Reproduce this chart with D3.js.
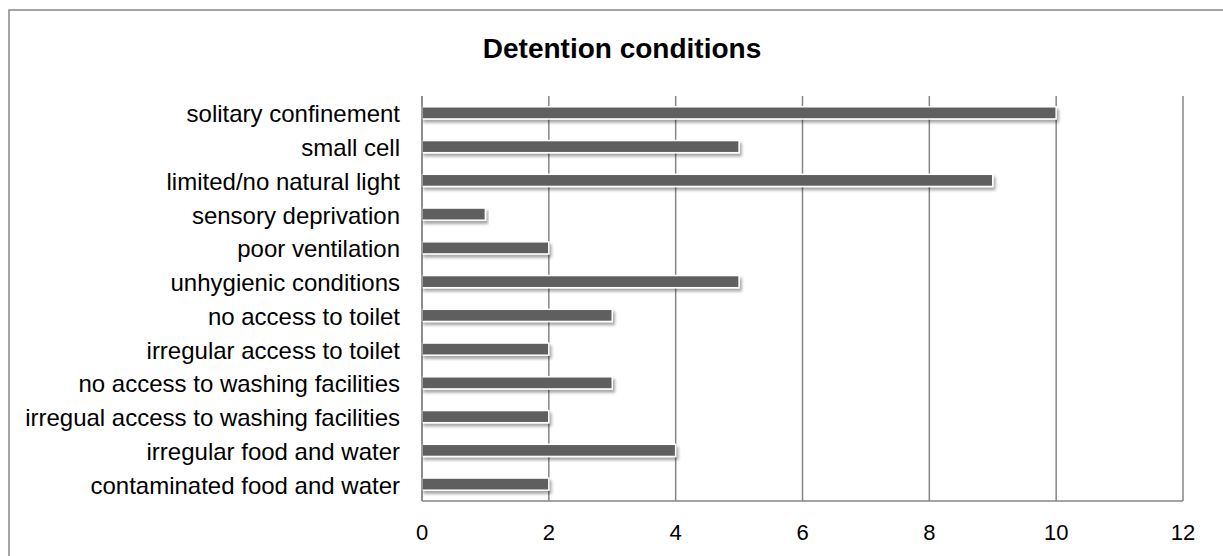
<!DOCTYPE html>
<html><head><meta charset="utf-8">
<script src="https://cdn.jsdelivr.net/npm/d3@7/dist/d3.min.js"></script>
<style>body{margin:0;background:#fff}svg{display:block}text{font-family:"Liberation Sans",Arial,sans-serif}</style>
</head><body><svg id="c" width="1223" height="556"></svg>
<script>
const categories = ["solitary confinement","small cell","limited/no natural light","sensory deprivation","poor ventilation","unhygienic conditions","no access to toilet","irregular access to toilet","no access to washing facilities","irregual access to washing facilities","irregular food and water","contaminated food and water"];
const values = [10,5,9,1,2,5,3,2,3,2,4,2];
const xTicks = [0,2,4,6,8,10,12];
const title = "Detention conditions";

const svg = d3.select("#c");
const m = {left:422, right:1183, top:96, bottom:501};
const x = d3.scaleLinear().domain([0,12]).range([m.left, m.right]);
const y = d3.scaleBand().domain(categories).range([m.top, m.bottom]).paddingInner(0.64).paddingOuter(0.32);

const defs = svg.append("defs");
const f = defs.append("filter").attr("id","sh").attr("x","-5%").attr("y","-50%").attr("width","110%").attr("height","250%");
f.append("feGaussianBlur").attr("in","SourceAlpha").attr("stdDeviation",1.5).attr("result","b");
f.append("feOffset").attr("in","b").attr("dx",1.5).attr("dy",3).attr("result","o");
f.append("feComponentTransfer").attr("in","o").attr("result","t").append("feFuncA").attr("type","linear").attr("slope",0.35);
const mg = f.append("feMerge"); mg.append("feMergeNode").attr("in","t"); mg.append("feMergeNode").attr("in","SourceGraphic");

// outer border
svg.append("rect").attr("x",9).attr("y",10).attr("width",1240).attr("height",560).attr("fill","none").attr("stroke","#878787").attr("stroke-width",1.5);

svg.append("text").attr("x",622).attr("y",58).attr("text-anchor","middle").attr("font-size",28).attr("font-weight","bold").attr("fill","#000").text(title);

// gridlines
svg.append("g").selectAll("line").data(xTicks).join("line")
  .attr("x1",d=>x(d)).attr("x2",d=>x(d)).attr("y1",m.top).attr("y2",m.bottom)
  .attr("stroke","#868686").attr("stroke-width",1.5);
svg.append("line").attr("x1",m.left).attr("x2",m.right).attr("y1",m.bottom).attr("y2",m.bottom).attr("stroke","#868686").attr("stroke-width",1.5);

// bars
svg.append("g").selectAll("rect").data(values).join("rect")
  .attr("x",x(0)).attr("y",(d,i)=>y(categories[i]))
  .attr("width",d=>x(d)-x(0)).attr("height",y.bandwidth())
  .attr("fill","#5f5f5f").attr("stroke","#fff").attr("stroke-width",1.5).attr("filter","url(#sh)");

// left axis line on top
svg.append("line").attr("x1",m.left).attr("x2",m.left).attr("y1",m.top).attr("y2",m.bottom).attr("stroke","#868686").attr("stroke-width",1.5);

// x tick labels
svg.append("g").selectAll("text").data(xTicks).join("text")
  .attr("x",d=>x(d)).attr("y",540).attr("text-anchor","middle").attr("font-size",22).attr("fill","#000").text(d=>d);

// category labels
svg.append("g").selectAll("text").data(categories).join("text")
  .attr("x",400).attr("y",d=>y(d)+y.bandwidth()/2).attr("dy","0.4em").attr("text-anchor","end").attr("font-size",24).attr("fill","#000").text(d=>d);
</script></body></html>
